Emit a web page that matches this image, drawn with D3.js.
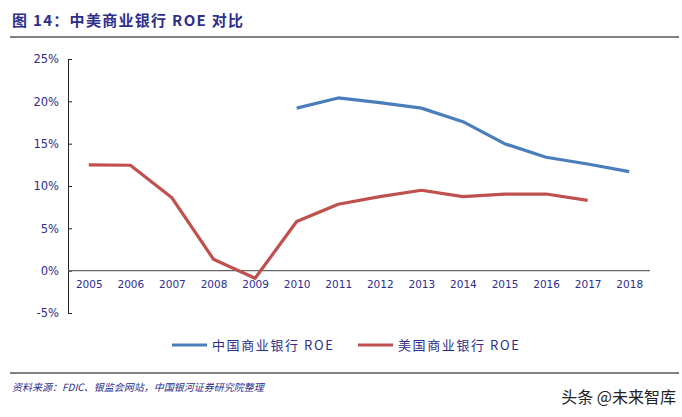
<!DOCTYPE html>
<html><head><meta charset="utf-8">
<script src="https://cdn.jsdelivr.net/npm/d3@7"></script>
<style>body{margin:0;background:#fff}svg{display:block}</style>
</head><body><svg id="c" width="682" height="417"></svg>
<script>
const years = ["2005","2006","2007","2008","2009","2010","2011","2012","2013","2014","2015","2016","2017","2018"];
const chinaROE = [null,null,null,null,null,19.2,20.4,19.85,19.2,17.6,15.0,13.4,12.6,11.7];
const usROE = [12.5,12.45,8.6,1.35,-0.9,5.8,7.85,8.75,9.5,8.75,9.05,9.05,8.3,null];
const yTicks = [-5,0,5,10,15,20,25];
const seriesNames = ["中国商业银行 ROE","美国商业银行 ROE"];
const colors = ["#4a7ebb","#c0504d"];
const textColor = "#2e2e8c";

const svg = d3.select("#c");
const pLeft = 68, pRight = 650, pTop = 59, pBottom = 313;
const x = d3.scalePoint().domain(years).range([pLeft, pRight]).padding(0.5);
const y = d3.scaleLinear().domain([-5,25]).range([pBottom, pTop]);

// title
svg.append("text").attr("x",12).attr("y",26).attr("fill",textColor)
  .attr("font-family","'Noto Sans CJK SC'").attr("font-weight","bold").attr("font-size",15)
  .attr("letter-spacing",1.3)
  .text("图 14：中美商业银行 ROE 对比");
svg.append("line").attr("x1",10).attr("x2",679).attr("y1",37).attr("y2",37).attr("stroke","#808080").attr("stroke-width",2);

// y axis
const yAxis = d3.axisLeft(y).tickValues(yTicks).tickFormat(d=>d+"%").tickSizeInner(-4).tickSizeOuter(-4).tickPadding(9);
const ga = svg.append("g").attr("transform",`translate(${pLeft},0)`).call(yAxis);
ga.select(".domain").attr("stroke","#222");
ga.selectAll(".tick line").attr("stroke","#222");
ga.selectAll("text").attr("fill",textColor).attr("font-family","'DejaVu Sans'").attr("font-size",11.5);

// zero line
svg.append("line").attr("x1",pLeft).attr("x2",pRight).attr("y1",y(0)).attr("y2",y(0)).attr("stroke","#666").attr("stroke-width",1.2);

// x labels
const xAxis = d3.axisBottom(x).tickSize(0).tickPadding(10);
const gx = svg.append("g").attr("transform",`translate(0,${y(0)})`).call(xAxis);
gx.select(".domain").remove();
gx.selectAll("text").attr("fill",textColor).attr("font-family","'DejaVu Sans'").attr("font-size",10.5);

// lines
const line = d3.line().defined(d=>d.v!==null).x(d=>x(d.k)).y(d=>y(d.v));
[chinaROE, usROE].forEach((s,i)=>{
  svg.append("path").datum(years.map((k,j)=>({k, v:s[j]})))
    .attr("d",line).attr("fill","none").attr("stroke",colors[i]).attr("stroke-width",3.2)
    .attr("stroke-linejoin","round");
});

// legend
const lx = [172, 358];
seriesNames.forEach((n,i)=>{
  svg.append("line").attr("x1",lx[i]).attr("x2",lx[i]+35).attr("y1",345).attr("y2",345)
    .attr("stroke",colors[i]).attr("stroke-width",3.2);
  svg.append("text").attr("x",lx[i]+40).attr("y",350).attr("fill",textColor)
    .attr("font-family","'Noto Sans CJK SC'").attr("font-size",13).attr("letter-spacing",1.6).text(n);
});

// bottom rule & source
svg.append("line").attr("x1",10).attr("x2",679).attr("y1",373).attr("y2",373).attr("stroke","#808080").attr("stroke-width",2);
svg.append("text").attr("x",12).attr("y",391).attr("fill",textColor)
  .attr("font-family","'Noto Sans CJK SC'").attr("font-style","italic").attr("font-size",10)
  .text("资料来源：FDIC、银监会网站，中国银河证券研究院整理");
svg.append("text").attr("x",676).attr("y",403).attr("text-anchor","end").attr("fill","#222")
  .attr("font-family","'Noto Sans CJK SC'").attr("font-size",16).text("头条 @未来智库");
</script></body></html>
